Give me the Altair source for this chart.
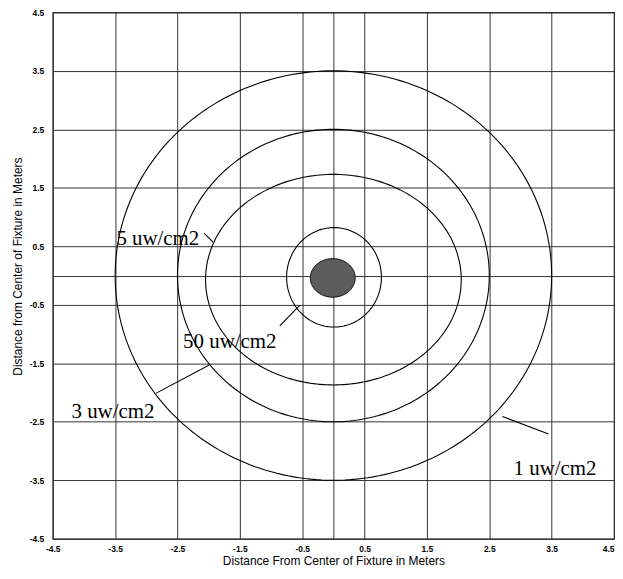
import altair as alt
import numpy as np
import pandas as pd

# Axis ticks
tick_values = [-4.5, -3.5, -2.5, -1.5, -0.5, 0, 0.5, 1.5, 2.5, 3.5, 4.5]

# Iso-irradiance contours (center x, center y, radius x, radius y)
contour_names = ["1 uw/cm2", "3 uw/cm2", "5 uw/cm2", "50 uw/cm2"]
contour_cx = [0.0, 0.0, 0.0, 0.01]
contour_cy = [0.0, 0.0, -0.07, -0.03]
contour_rx = [3.5, 2.5, 2.05, 0.76]
contour_ry = [3.5, 2.5, 1.8, 0.85]

# Fixture (filled ellipse)
fixture_cx = -0.01
fixture_cy = -0.04
fixture_rx = 0.36
fixture_ry = 0.33

# Labels (left, baseline)
label_text = ["5 uw/cm2", "50 uw/cm2", "3 uw/cm2", "1 uw/cm2"]
label_x = [-3.48, -2.41, -4.2, 2.89]
label_y = [0.52, -1.23, -2.43, -3.41]

# Leader lines
leader_x1 = [-2.07, -0.86, -2.84, 2.71]
leader_y1 = [0.72, -0.86, -2.01, -2.41]
leader_x2 = [-1.93, -0.54, -1.99, 3.45]
leader_y2 = [0.57, -0.51, -1.53, -2.71]

# Build ellipse outlines from the read centers/radii
t = np.linspace(0, 2 * np.pi, 241)
rows = []
for name, cx, cy, rx, ry in zip(contour_names, contour_cx, contour_cy, contour_rx, contour_ry):
    for i, a in enumerate(t):
        rows.append({"contour": name, "i": i, "x": cx + rx * np.cos(a), "y": cy + ry * np.sin(a)})
ell_df = pd.DataFrame(rows)

tt = np.linspace(0, np.pi, 121)
fix_df = pd.DataFrame({
    "x": fixture_cx + fixture_rx * np.cos(tt),
    "y": fixture_cy + fixture_ry * np.sin(tt),
    "y2": fixture_cy - fixture_ry * np.sin(tt),
})
fix_line = pd.DataFrame({
    "i": range(len(t)),
    "x": fixture_cx + fixture_rx * np.cos(t),
    "y": fixture_cy + fixture_ry * np.sin(t),
})

label_df = pd.DataFrame({"text": label_text, "x": label_x, "y": label_y})
leader_df = pd.DataFrame({"x": leader_x1, "y": leader_y1, "x2": leader_x2, "y2": leader_y2})

dom = [-4.5, 4.5]
label_expr = "datum.value == 0 ? '' : (datum.value < 0 ? '-' + format(-datum.value, '.1f') : format(datum.value, '.1f'))"

xscale = alt.Scale(domain=dom, nice=False, zero=False)
yscale = alt.Scale(domain=dom, nice=False, zero=False)

xaxis = alt.Axis(values=tick_values, labelExpr=label_expr, title="Distance From Center of Fixture in Meters",
                 grid=True, ticks=False, domain=False, labelPadding=6, labelFlush=False,
                 labelAlign=alt.condition("datum.value == 4.5", alt.value("right"), alt.value("center")),
                 labelOverlap=False, titleY=26, titleBaseline="alphabetic")
yaxis = alt.Axis(values=tick_values, labelExpr=label_expr, title="Distance from Center of Fixture in Meters",
                 grid=True, ticks=False, domain=False, labelPadding=9, labelFlush=False,
                 labelOverlap=False, titleX=-31, titleY=255, titleAngle=-90,
                 titleBaseline="alphabetic", titleAlign="center")

base_x = alt.X("x:Q", scale=xscale, axis=xaxis)
base_y = alt.Y("y:Q", scale=yscale, axis=yaxis)

ellipses = alt.Chart(ell_df).mark_line(color="black", strokeWidth=1.1, clip=True).encode(
    x=base_x, y=base_y, detail="contour:N", order="i:Q"
)

fixture = alt.Chart(fix_df).mark_area(color="#5c5c5c", opacity=1).encode(
    x=alt.X("x:Q", scale=xscale), y=alt.Y("y:Q", scale=yscale), y2="y2:Q"
)
fixture_outline = alt.Chart(fix_line).mark_line(color="black", strokeWidth=1).encode(
    x=alt.X("x:Q", scale=xscale), y=alt.Y("y:Q", scale=yscale), order="i:Q"
)

leaders = alt.Chart(leader_df).mark_rule(color="black", strokeWidth=1.1).encode(
    x=alt.X("x:Q", scale=xscale), y=alt.Y("y:Q", scale=yscale), x2="x2:Q", y2="y2:Q"
)

labels = alt.Chart(label_df).mark_text(
    align="left", baseline="alphabetic", font="Liberation Serif", fontSize=21, color="black"
).encode(x=alt.X("x:Q", scale=xscale), y=alt.Y("y:Q", scale=yscale), text="text:N")

chart = alt.layer(ellipses, fixture, fixture_outline, leaders, labels).properties(
    width=564, height=529,
    padding={"left": 45, "top": 3, "right": 1, "bottom": 27},
    autosize="none",
).configure_view(
    stroke="#222222", strokeWidth=1.2
).configure_axis(
    gridColor="#333333", gridWidth=1, gridOpacity=1,
    labelFont="Liberation Sans", labelFontSize=8.5, labelFontWeight="bold", labelColor="black",
    titleFont="Liberation Sans", titleFontSize=12, titleFontWeight="normal", titleColor="black",
)

chart.save("out.html", embed_options={"renderer": "svg", "actions": False})
